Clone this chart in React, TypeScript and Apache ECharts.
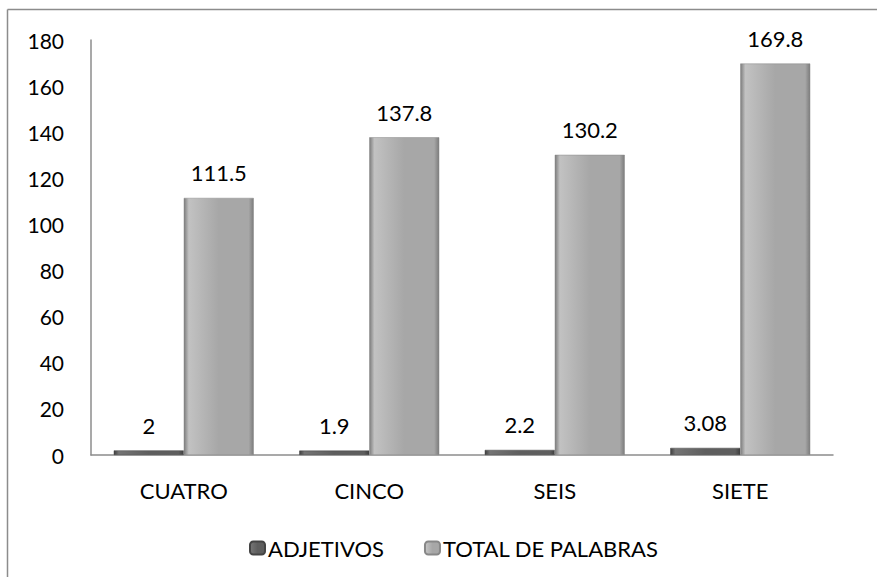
import React, { useEffect, useRef } from "react";
import * as echarts from "echarts";

const categories = ["CUATRO", "CINCO", "SEIS", "SIETE"];
const adjetivos = [2, 1.9, 2.2, 3.08];
const totalPalabras = [111.5, 137.8, 130.2, 169.8];
const seriesNames = ["ADJETIVOS", "TOTAL DE PALABRAS"];

const bevel = (edge: string, mid: string, hi: string) =>
  new echarts.graphic.LinearGradient(0, 0, 1, 0, [
    { offset: 0, color: edge },
    { offset: 0.07, color: hi },
    { offset: 0.5, color: mid },
    { offset: 0.93, color: mid },
    { offset: 1, color: edge },
  ]);

export default function App() {
  const ref = useRef<HTMLDivElement>(null);
  useEffect(() => {
    const chart = echarts.init(ref.current!, null, { renderer: "svg" });
    const font = "Lato, Open Sans, sans-serif";
    const fs = 22;
    chart.setOption({
      animation: false,
      backgroundColor: "#fff",
      textStyle: { fontFamily: font },
      graphic: [
        { type: "line", shape: { x1: 7.5, y1: 9.5, x2: 877, y2: 9.5 }, style: { stroke: "#8c8c8c", lineWidth: 1.5 } },
        { type: "line", shape: { x1: 7.5, y1: 9.5, x2: 7.5, y2: 577 }, style: { stroke: "#8c8c8c", lineWidth: 1.5 } },
      ],
      grid: { left: 91, right: 44, top: 40, bottom: 122, containLabel: false },
      legend: {
        top: 532,
        left: 244,
        itemWidth: 15,
        itemHeight: 13,
        itemGap: 40,
        textStyle: { fontSize: fs, color: "#000", fontFamily: font, padding: [0, 0, 0, -2] },
        data: seriesNames,
      },
      xAxis: {
        type: "category",
        data: categories,
        axisLine: { lineStyle: { color: "#8c8c8c", width: 1.5 } },
        axisTick: { show: false },
        axisLabel: { fontSize: fs, color: "#000", margin: 24, fontFamily: font },
      },
      yAxis: {
        type: "value",
        min: 0,
        max: 180,
        interval: 20,
        axisLine: { show: true, lineStyle: { color: "#8c8c8c", width: 1.5 } },
        axisTick: { show: false },
        splitLine: { show: false },
        axisLabel: { fontSize: 21, color: "#000", margin: 27, fontFamily: font },
      },
      series: [
        {
          name: seriesNames[0],
          type: "bar",
          data: adjetivos,
          barWidth: 70,
          barGap: "0%",
          itemStyle: {
            color: bevel("#3e3e3e", "#5e5e5e", "#747474"),
            borderColor: "#444",
            borderWidth: 0.5,
          },
          label: { show: true, position: "top", distance: 14, fontSize: fs, color: "#000", fontFamily: font },
        },
        {
          name: seriesNames[1],
          type: "bar",
          data: totalPalabras,
          barWidth: 70,
          itemStyle: {
            color: bevel("#7c7c7c", "#a7a7a7", "#c2c2c2"),
            borderColor: "#888",
            borderWidth: 0.5,
          },
          label: { show: true, position: "top", distance: 14, fontSize: fs, color: "#000", fontFamily: font },
        },
      ],
    });
    return () => chart.dispose();
  }, []);
  return (
    <div
      ref={ref}
      style={{ position: "absolute", left: 0, top: 0, width: 877, height: 577 }}
    />
  );
}
